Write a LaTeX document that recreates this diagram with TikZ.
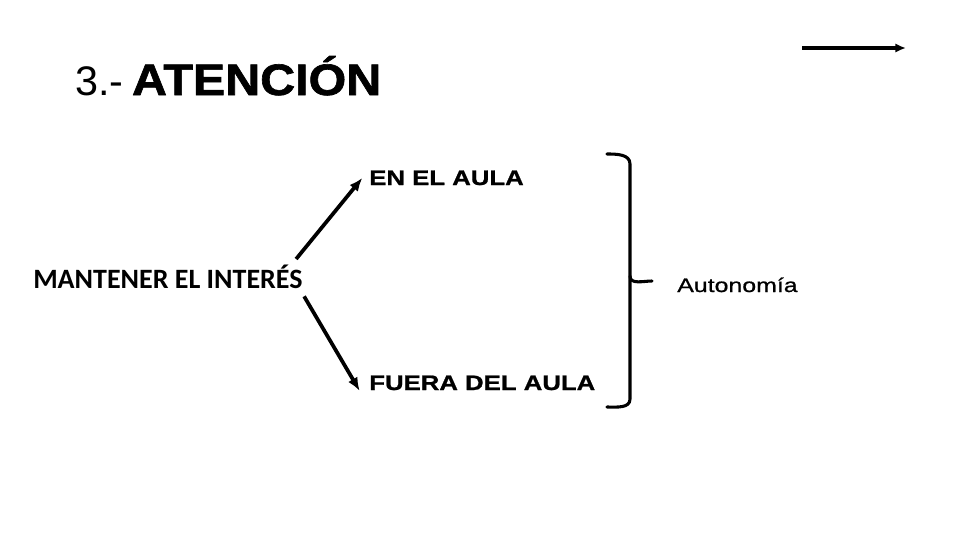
\documentclass[tikz,border=0pt]{standalone}
\usepackage{fontspec}
\setmainfont{Liberation Sans}
\newfontfamily\calfont{Carlito}
\newfontfamily\widefont{Liberation Sans}[FakeStretch=1.23,FakeBold=1]
\newfontfamily\autfont{Liberation Sans}[FakeStretch=1.27,FakeBold=0.8]
\newfontfamily\heavyfont{Liberation Sans Bold}[FakeStretch=1.1,FakeBold=1.5]
\usetikzlibrary{arrows.meta,positioning}

\begin{document}
\begin{tikzpicture}[
      x=0.75pt, y=-0.75pt,
      lbl/.style={inner sep=0pt, anchor=base west},
      arr/.style={-{Latex[length=10pt,width=8pt]}, line width=2.8pt},
      brk/.style={line width=2.3pt, line cap=round}
    ]
      \useasboundingbox[fill=white] (0,0) rectangle (960,540);
      % title
      \node[lbl, font=\fontsize{31}{36}\selectfont] (num) at (75,95) {3.-};
      \node[lbl, font=\heavyfont\fontsize{33}{38}\selectfont, right=6pt of num.base east, anchor=base west] (title) {ATENCIÓN};
      \coordinate (arrs) at (802,48);
      \coordinate (arre) at (906,48);
      \draw[arr, -{Latex[length=8pt,width=7pt]}, line width=2.3pt] (arrs) -- (arre);
      % tree
      \node[lbl, font=\calfont\bfseries\fontsize{21}{25}\selectfont] (interes) at (33,288) {MANTENER EL INTERÉS};
      \node[lbl, font=\widefont\bfseries\fontsize{15.7}{19}\selectfont] (enaula) at (369,185) {EN EL AULA};
      \node[lbl, font=\widefont\bfseries\fontsize{15.7}{19}\selectfont] (fuera) at (369,390) {FUERA DEL AULA};
      \draw[arr] ([xshift=-5pt,yshift=13pt]interes.east) -- ([xshift=-5pt]enaula.west);
      \draw[arr] ([xshift=1pt,yshift=-15pt]interes.east) -- ([xshift=-7pt,yshift=-6pt]fuera.west);
      % bracket
      \coordinate (bt) at (607,154);
      \coordinate (bb) at (607,407);
      \coordinate (bm) at (652,281);
      \draw[brk] (bt) to[out=0,in=90] (630,164) -- (630,399) to[out=-90,in=0] (bb);
      \draw[brk] (630,276) to[out=-90,in=180] (bm);
      \node[lbl, font=\autfont\fontsize{14.7}{18}\selectfont] (auton) at (677,292) {Autonomía};
    \end{tikzpicture}
\end{document}
